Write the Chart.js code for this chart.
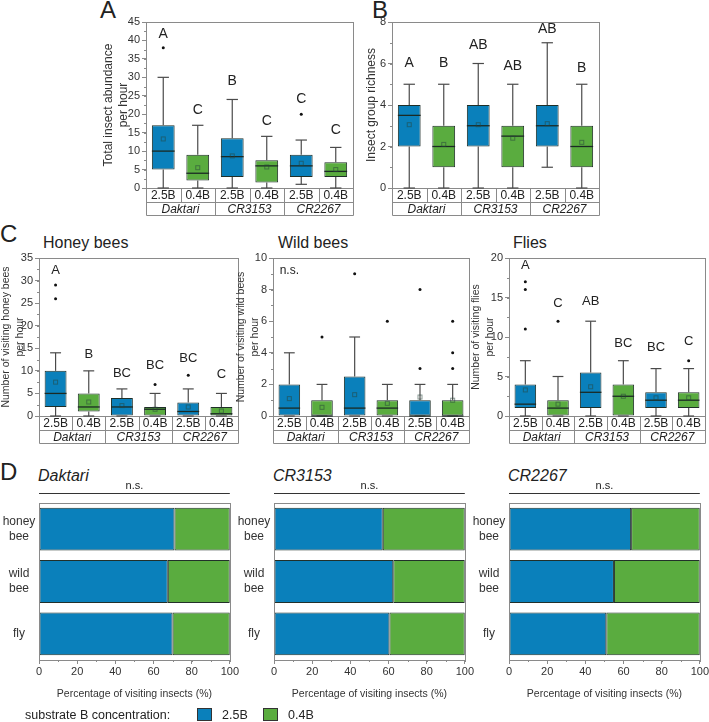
<!DOCTYPE html>
<html>
<head>
<meta charset="utf-8">
<script src="https://cdn.jsdelivr.net/npm/chart.js@4.4.0/dist/chart.umd.min.js"></script>
<style>
  body { margin: 0; background: #fff; width: 709px; height: 722px; position: relative; overflow: hidden;
         font-family: 'Liberation Sans', Arial, sans-serif; color: #222; }
  canvas { position: absolute; }
  .t { position: absolute; white-space: nowrap; line-height: 1; }
  .panel { font-size: 24px; }
  .sub { font-size: 16px; }
  .it { font-size: 16px; font-style: italic; }
  .sw { position: absolute; width: 15px; height: 13px; border: 1px solid #333; box-sizing: border-box; }
</style>
</head>
<body>
<div class="t panel" style="left:100px;top:-2px">A</div>
<div class="t panel" style="left:372px;top:-2px">B</div>
<div class="t panel" style="left:0px;top:222px">C</div>
<div class="t panel" style="left:0px;top:460px">D</div>

<div class="t sub" style="left:43px;top:235px">Honey bees</div>
<div class="t sub" style="left:278px;top:235px">Wild bees</div>
<div class="t sub" style="left:513px;top:235px">Flies</div>

<div class="t it" style="left:38px;top:468px">Daktari</div>
<div class="t it" style="left:273px;top:468px">CR3153</div>
<div class="t it" style="left:508px;top:468px">CR2267</div>

<canvas id="cA" width="265" height="220" style="left:100px;top:0px"></canvas>
<canvas id="cB" width="245" height="220" style="left:360px;top:0px"></canvas>
<canvas id="cC1" width="240" height="450" style="left:0px;top:0px"></canvas>
<canvas id="cC2" width="240" height="450" style="left:233px;top:0px"></canvas>
<canvas id="cC3" width="241" height="450" style="left:468px;top:0px"></canvas>
<canvas id="cD1" width="240" height="230" style="left:0px;top:470px"></canvas>
<canvas id="cD2" width="240" height="230" style="left:235px;top:470px"></canvas>
<canvas id="cD3" width="240" height="230" style="left:470px;top:470px"></canvas>

<div class="t" style="left:25px;top:709px;font-size:12.5px">substrate B concentration:</div>
<div class="sw" style="left:197px;top:708px;background:#0a80bb"></div>
<div class="t" style="left:222px;top:709px;font-size:12.5px">2.5B</div>
<div class="sw" style="left:263px;top:708px;background:#5aac3f"></div>
<div class="t" style="left:288px;top:709px;font-size:12.5px">0.4B</div>

<script>
const groups = ['Daktari', 'CR3153', 'CR2267']
const boxLabels = ['2.5B', '0.4B', '2.5B', '0.4B', '2.5B', '0.4B']

// A - total insect abundance per hour
const abundMin = [0, 0, 0, 0, 1, 0]
const abundQ1 = [5, 2, 3, 1.5, 3, 3]
const abundMed = [10, 4, 8.5, 6, 6, 4.5]
const abundQ3 = [17, 9, 13.5, 7.5, 9, 7]
const abundMax = [30, 17, 24, 14, 13, 11]
const abundMean = [13.3, 5.5, 8.7, 5.7, 6.7, 5]
const abundOut = [[38], [], [], [], [20], []]
const abundLetters = ['A', 'C', 'B', 'C', 'C', 'C']
const abundLetterY = [41.7, 21, 29, 18.2, 24, 15.7]

// B - insect group richness
const richMin = [0, 0, 0, 0, 1, 0]
const richQ1 = [2, 1, 2, 1, 2, 1]
const richMed = [3.5, 2, 3, 2.5, 3, 2]
const richQ3 = [4, 3, 4, 3, 4, 3]
const richMax = [5, 5, 6, 5, 7, 5]
const richMean = [3.05, 2.1, 3.05, 2.4, 3.1, 2.2]
const richOut = [[], [], [], [], [], []]
const richLetters = ['A', 'B', 'AB', 'AB', 'AB', 'B']
const richLetterY = [6, 6, 6.9, 5.85, 7.65, 5.8]

// C - honey bees
const honeyMin = [0, 0, 0, 0, 0, 0]
const honeyQ1 = [2, 1, 0, 0, 0, 0]
const honeyMed = [5, 2, 2, 1.5, 1, 0.5]
const honeyQ3 = [10, 5, 4, 2, 3, 2]
const honeyMax = [14, 10, 6, 5, 6, 5]
const honeyMean = [7.5, 3.1, 2.3, 1.5, 2, 1.1]
const honeyOut = [[26, 29], [], [], [7], [9], []]
const honeyLetters = ['A', 'B', 'BC', 'BC', 'BC', 'C']
const honeyLetterY = [32.3, 13.7, 9.5, 11.1, 12.8, 9.3]

// C - wild bees
const wildMin = [0, 0, 0, 0, 0, 0]
const wildQ1 = [0, 0, 0, 0, 0, 0]
const wildMed = [0.5, 0, 0.5, 0.5, 0, 0]
const wildQ3 = [2, 1, 2.5, 1, 1, 1]
const wildMax = [4, 2, 5, 2, 2, 2]
const wildMean = [1.1, 0.55, 1.35, 0.8, 1.2, 1.0]
const wildOut = [[], [5], [9], [6], [3, 8], [3, 4, 6]]
const wildLetters = ['n.s.', '', '', '', '', '']
const wildLetterY = [9.2, 0, 0, 0, 0, 0]

// C - flies
const flyMin = [0, 0, 0, 0, 0, 0]
const flyQ1 = [1, 0, 1, 0, 1, 1]
const flyMed = [1.5, 1, 3, 2.5, 2, 2]
const flyQ3 = [4, 2, 5.5, 4, 3, 3]
const flyMax = [7, 5, 12, 7, 6, 6]
const flyMean = [3.3, 1.5, 3.7, 2.5, 2.3, 2.3]
const flyOut = [[11, 16, 17], [12], [], [], [], [7]]
const flyLetters = ['A', 'C', 'AB', 'BC', 'BC', 'C']
const flyLetterY = [19, 14.3, 14.5, 9.2, 8.7, 9.4]

// D - share of visiting insects (%)
const visitors = [['honey', 'bee'], ['wild', 'bee'], 'fly']
const dakShare25 = [71, 67.5, 70]
const dakShare04 = [29, 32.5, 30]
const cr3153Share25 = [57, 62.5, 60.5]
const cr3153Share04 = [43, 37.5, 39.5]
const cr2267Share25 = [64, 55, 51]
const cr2267Share04 = [36, 45, 49]

const blue = '#0a80bb'
const green = '#5aac3f'
const axisGrey = '#8a8a8a'

Chart.defaults.font.family = "'Liberation Sans', Arial, sans-serif"
Chart.defaults.color = '#333'

function line(ctx, x1, y1, x2, y2) {
  ctx.beginPath()
  ctx.moveTo(x1, y1)
  ctx.lineTo(x2, y2)
  ctx.stroke()
}

function drawMinorTicks(ctx, scale, max, minor, vertical) {
  ctx.strokeStyle = axisGrey
  ctx.lineWidth = 1
  for (let v = 0; v <= max + 1e-9; v += minor) {
    const p = Math.round(scale.getPixelForValue(v)) + 0.5
    if (vertical) line(ctx, scale.right - 2, p, scale.right, p)
    else line(ctx, p, scale.top, p, scale.top + 2)
  }
}

function boxChart(id, d, opt) {
  const extras = {
    id: 'boxExtras',
    afterDatasetsDraw(chart) {
      const ctx = chart.ctx
      const x = chart.scales.x
      const y = chart.scales.y
      const ca = chart.chartArea
      const meta = chart.getDatasetMeta(0)
      ctx.save()
      // frame
      ctx.strokeStyle = axisGrey
      ctx.lineWidth = 1
      ctx.strokeRect(Math.round(ca.left) + 0.5, Math.round(ca.top) + 0.5, Math.round(ca.width), Math.round(ca.height))
      drawMinorTicks(ctx, y, opt.max, opt.minor, true)

      d.q1.forEach((q1, i) => {
        const cx = x.getPixelForValue(i)
        const bw = meta.data[i].width
        const cap = bw * 0.5
        ctx.strokeStyle = '#4a4a4a'
        ctx.lineWidth = 1.2
        // whiskers
        line(ctx, cx, y.getPixelForValue(d.q3[i]), cx, y.getPixelForValue(d.max[i]))
        line(ctx, cx - cap / 2, y.getPixelForValue(d.max[i]), cx + cap / 2, y.getPixelForValue(d.max[i]))
        line(ctx, cx, y.getPixelForValue(q1), cx, y.getPixelForValue(d.min[i]))
        line(ctx, cx - cap / 2, y.getPixelForValue(d.min[i]), cx + cap / 2, y.getPixelForValue(d.min[i]))
        // median
        ctx.strokeStyle = '#1b2a24'
        ctx.lineWidth = 1.3
        line(ctx, cx - bw / 2, y.getPixelForValue(d.med[i]), cx + bw / 2, y.getPixelForValue(d.med[i]))
        // mean
        ctx.strokeStyle = 'rgba(40,70,60,0.55)'
        ctx.lineWidth = 1
        const my = y.getPixelForValue(d.mean[i])
        ctx.strokeRect(cx - 2, my - 2, 4, 4)
        // outliers
        ctx.fillStyle = '#111'
        d.out[i].forEach(v => {
          ctx.beginPath()
          ctx.arc(cx, y.getPixelForValue(v), 1.5, 0, Math.PI * 2)
          ctx.fill()
        })
        // letters
        if (d.letters[i]) {
          ctx.fillStyle = '#222'
          ctx.font = opt.letterSize + "px 'Liberation Sans', Arial, sans-serif"
          ctx.textAlign = 'center'
          ctx.textBaseline = 'middle'
          ctx.fillText(d.letters[i], cx, y.getPixelForValue(d.letterY[i]))
        }
      })

      // category table under the plot
      const b = Math.round(ca.bottom) + 0.5
      const r1 = b + 14
      const r2 = b + 27
      const L = Math.round(ca.left) + 0.5
      const R = Math.round(ca.right) + 0.5
      ctx.strokeStyle = axisGrey
      ctx.lineWidth = 1
      line(ctx, L, b, L, r2)
      line(ctx, R, b, R, r2)
      line(ctx, L, r1, R, r1)
      line(ctx, L, r2, R, r2)
      ctx.fillStyle = '#222'
      ctx.textAlign = 'center'
      ctx.textBaseline = 'middle'
      ctx.font = "12px 'Liberation Sans', Arial, sans-serif"
      boxLabels.forEach((lab, i) => {
        ctx.fillText(lab, x.getPixelForValue(i), b + 7.5)
        if (i > 0) {
          const px = Math.round(x.getPixelForValue(i - 0.5)) + 0.5
          line(ctx, px, b, px, i % 2 === 0 ? r2 : r1)
        }
      })
      ctx.font = "italic 12px 'Liberation Sans', Arial, sans-serif"
      groups.forEach((g, k) => {
        ctx.fillText(g, x.getPixelForValue(2 * k + 0.5), r1 + 7)
      })
      ctx.restore()
    }
  }

  return new Chart(document.getElementById(id), {
    type: 'bar',
    data: {
      labels: boxLabels,
      datasets: [{
        data: d.q1.map((v, i) => [v, d.q3[i]]),
        backgroundColor: boxLabels.map(l => (l === '2.5B' ? blue : green)),
        borderColor: '#1f2f28',
        borderWidth: 1,
        borderSkipped: false,
        barPercentage: 0.66,
        categoryPercentage: 1,
      }],
    },
    options: {
      responsive: false,
      animation: false,
      devicePixelRatio: 1,
      layout: { padding: { top: opt.top, right: opt.right, bottom: opt.bottom, left: 0 } },
      plugins: { legend: { display: false }, tooltip: { enabled: false } },
      scales: {
        x: { display: false },
        y: {
          min: 0,
          max: opt.max,
          ticks: { stepSize: opt.step, color: '#333', font: { size: 11 }, padding: 2 },
          grid: { drawOnChartArea: false, tickLength: 4, color: axisGrey },
          border: { color: axisGrey },
          title: {
            display: true,
            text: opt.title,
            color: '#333',
            font: { size: opt.titleSize, lineHeight: 1.25 },
            padding: { top: opt.titlePad, bottom: 0 },
          },
          afterFit(s) { s.width = opt.axisW },
        },
      },
    },
    plugins: [extras],
  })
}

function shareChart(id, s25, s04) {
  const extras = {
    id: 'shareExtras',
    afterDatasetsDraw(chart) {
      const ctx = chart.ctx
      const ca = chart.chartArea
      const y = chart.scales.y
      ctx.save()
      ctx.strokeStyle = axisGrey
      ctx.lineWidth = 1
      ctx.strokeRect(Math.round(ca.left) + 0.5, Math.round(ca.top) + 0.5, Math.round(ca.width), Math.round(ca.height))
      drawMinorTicks(ctx, chart.scales.x, 100, 10, false)
      // category labels, centred lines
      ctx.fillStyle = '#333'
      ctx.font = "12px 'Liberation Sans', Arial, sans-serif"
      ctx.textAlign = 'center'
      ctx.textBaseline = 'middle'
      visitors.forEach((lab, i) => {
        const lines = Array.isArray(lab) ? lab : [lab]
        const cy = y.getPixelForValue(i)
        lines.forEach((t, k) => {
          ctx.fillText(t, ca.left - 20, cy + (k - (lines.length - 1) / 2) * 15)
        })
      })
      // significance line
      ctx.strokeStyle = '#333'
      const ly = Math.round(ca.top) - 10 + 0.5
      line(ctx, ca.left, ly, ca.right, ly)
      ctx.fillStyle = '#222'
      ctx.font = "11px 'Liberation Sans', Arial, sans-serif"
      ctx.textBaseline = 'bottom'
      ctx.fillText('n.s.', (ca.left + ca.right) / 2, ly - 2)
      ctx.restore()
    }
  }
  const ds = (label, data, color) => ({
    label,
    data,
    backgroundColor: color,
    borderColor: '#22302a',
    borderWidth: 1,
    borderSkipped: false,
    barPercentage: 0.82,
    categoryPercentage: 1,
  })
  return new Chart(document.getElementById(id), {
    type: 'bar',
    data: { labels: visitors, datasets: [ds('2.5B', s25, blue), ds('0.4B', s04, green)] },
    options: {
      indexAxis: 'y',
      responsive: false,
      animation: false,
      devicePixelRatio: 1,
      layout: { padding: { top: 33, right: 6, bottom: 0, left: 0 } },
      plugins: { legend: { display: false }, tooltip: { enabled: false } },
      scales: {
        x: {
          stacked: true,
          min: 0,
          max: 100,
          ticks: { stepSize: 20, color: '#333', font: { size: 11 }, padding: 1 },
          grid: { drawOnChartArea: false, tickLength: 4, color: axisGrey },
          border: { color: axisGrey },
          title: { display: true, text: 'Percentage of visiting insects (%)', color: '#333', font: { size: 10.5 }, padding: 0 },
          afterFit(s) { s.height = 40 },
        },
        y: {
          stacked: true,
          grid: { display: false },
          border: { display: false },
          ticks: { display: false },
          afterFit(s) { s.width = 39 },
        },
      },
    },
    plugins: [extras],
  })
}

boxChart('cA',
  { min: abundMin, q1: abundQ1, med: abundMed, q3: abundQ3, max: abundMax, mean: abundMean, out: abundOut, letters: abundLetters, letterY: abundLetterY },
  { max: 45, step: 5, minor: 2.5, top: 22, right: 12, bottom: 32, axisW: 46, title: ['Total insect abundance', 'per hour'], titleSize: 12, titlePad: 1, letterSize: 14 })

boxChart('cB',
  { min: richMin, q1: richQ1, med: richMed, q3: richQ3, max: richMax, mean: richMean, out: richOut, letters: richLetters, letterY: richLetterY },
  { max: 8, step: 2, minor: 1, top: 22, right: 6, bottom: 32, axisW: 32, title: 'Insect group richness', titleSize: 12, titlePad: 4, letterSize: 14 })

boxChart('cC1',
  { min: honeyMin, q1: honeyQ1, med: honeyMed, q3: honeyQ3, max: honeyMax, mean: honeyMean, out: honeyOut, letters: honeyLetters, letterY: honeyLetterY },
  { max: 35, step: 5, minor: 2.5, top: 258, right: 2, bottom: 34, axisW: 39, title: ['Number of visiting honey bees', 'per hour'], titleSize: 10.5, titlePad: 0, letterSize: 13 })

boxChart('cC2',
  { min: wildMin, q1: wildQ1, med: wildMed, q3: wildQ3, max: wildMax, mean: wildMean, out: wildOut, letters: wildLetters, letterY: wildLetterY },
  { max: 10, step: 2, minor: 1, top: 258, right: 4, bottom: 34, axisW: 40, title: ['Number of visiting wild bees', 'per hour'], titleSize: 10.5, titlePad: 2, letterSize: 12 })

boxChart('cC3',
  { min: flyMin, q1: flyQ1, med: flyMed, q3: flyQ3, max: flyMax, mean: flyMean, out: flyOut, letters: flyLetters, letterY: flyLetterY },
  { max: 20, step: 5, minor: 2.5, top: 258, right: 4, bottom: 34, axisW: 41, title: ['Number of visiting flies', 'per hour'], titleSize: 10.5, titlePad: 2, letterSize: 13 })

shareChart('cD1', dakShare25, dakShare04)
shareChart('cD2', cr3153Share25, cr3153Share04)
shareChart('cD3', cr2267Share25, cr2267Share04)
</script>
</body>
</html>
